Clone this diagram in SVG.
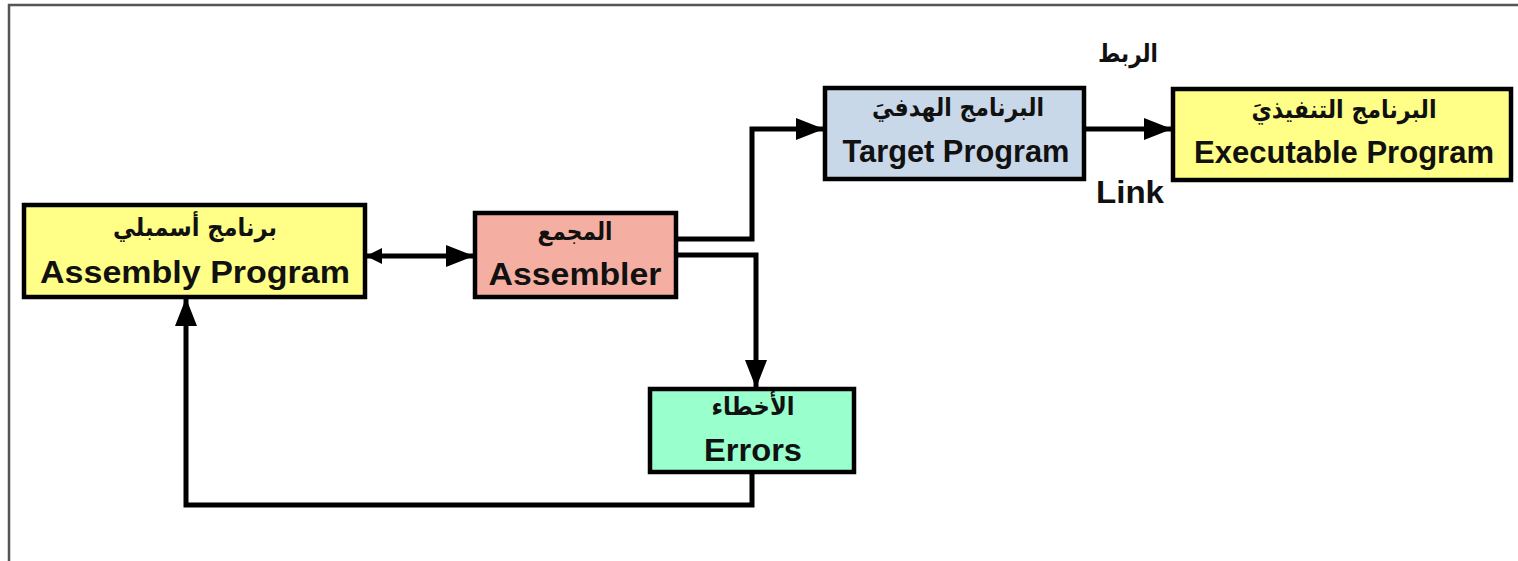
<svg xmlns="http://www.w3.org/2000/svg" width="1518" height="561" viewBox="0 0 1518 561">
  <style>
    .box { stroke: #000; stroke-width: 4.5; }
    .en { font-family: "Liberation Sans", Arial, sans-serif; font-weight: bold; font-size: 32px; fill: #111; text-anchor: middle; }
    .ar { font-family: "DejaVu Sans", "Noto Sans", sans-serif; font-weight: bold; font-size: 25px; fill: #111; text-anchor: middle; }
    .wire { fill: none; stroke: #000; stroke-width: 5; }
  </style>
  <defs>
    <marker id="arrow" markerUnits="userSpaceOnUse" markerWidth="28" markerHeight="22" viewBox="0 0 28 22" refX="27" refY="11" orient="auto">
      <path d="M0,0 L28,11 L0,22 z" fill="#000"/>
    </marker>
    <marker id="arrow-small" markerUnits="userSpaceOnUse" markerWidth="16" markerHeight="16" viewBox="0 0 16 16" refX="15" refY="8" orient="auto-start-reverse">
      <path d="M0,0 L16,8 L0,16 z" fill="#000"/>
    </marker>
  </defs>

  <rect width="1518" height="561" fill="#fff"/>
  <!-- page frame -->
  <rect x="9" y="5" width="1530" height="600" fill="none" stroke="#555" stroke-width="2.5"/>

  <g id="connectors">
    <path class="wire" d="M367 256 H473" marker-start="url(#arrow-small)" marker-end="url(#arrow)"/>
    <path class="wire" d="M678 239 H752 V129 H823" marker-end="url(#arrow)"/>
    <path class="wire" d="M678 255 H756 V387" marker-end="url(#arrow)"/>
    <path class="wire" d="M1086 129 H1171" marker-end="url(#arrow)"/>
    <path class="wire" d="M752 474 V505 H186 V299" marker-end="url(#arrow)"/>
  </g>

  <g id="assembly-program">
    <rect class="box" x="24" y="205" width="341" height="92" fill="#FFFF88"/>
    <text class="ar" x="195" y="236" textLength="164" lengthAdjust="spacingAndGlyphs">برنامج أسمبلي</text>
    <text class="en" x="195" y="283" textLength="310" lengthAdjust="spacingAndGlyphs">Assembly Program</text>
  </g>

  <g id="assembler">
    <rect class="box" x="475" y="213" width="201" height="84" fill="#F5AFA2"/>
    <text class="ar" x="575" y="240" textLength="75" lengthAdjust="spacingAndGlyphs">المجمع</text>
    <text class="en" x="575" y="285" textLength="173" lengthAdjust="spacingAndGlyphs">Assembler</text>
  </g>

  <g id="target-program">
    <rect class="box" x="825" y="88" width="259" height="91" fill="#C9D8E8"/>
    <text class="ar" x="958" y="116" textLength="172" lengthAdjust="spacingAndGlyphs">البرنامج الهدفيَ</text>
    <text class="en" x="956" y="162" textLength="227" lengthAdjust="spacingAndGlyphs">Target Program</text>
  </g>

  <g id="executable-program">
    <rect class="box" x="1173" y="89" width="338" height="91" fill="#FFFF88"/>
    <text class="ar" x="1344" y="118" textLength="185" lengthAdjust="spacingAndGlyphs">البرنامج التنفيذيَ</text>
    <text class="en" x="1344" y="163" textLength="300" lengthAdjust="spacingAndGlyphs">Executable Program</text>
  </g>

  <g id="errors">
    <rect class="box" x="650" y="389" width="204" height="83" fill="#99FFCC"/>
    <text class="ar" x="753" y="415" textLength="83" lengthAdjust="spacingAndGlyphs">الأخطاء</text>
    <text class="en" x="753" y="461" textLength="98" lengthAdjust="spacingAndGlyphs">Errors</text>
  </g>

  <g id="link-labels">
    <text class="ar" x="1128" y="62" textLength="60" lengthAdjust="spacingAndGlyphs">الربط</text>
    <text class="en" x="1130" y="203" textLength="68" lengthAdjust="spacingAndGlyphs">Link</text>
  </g>
</svg>
